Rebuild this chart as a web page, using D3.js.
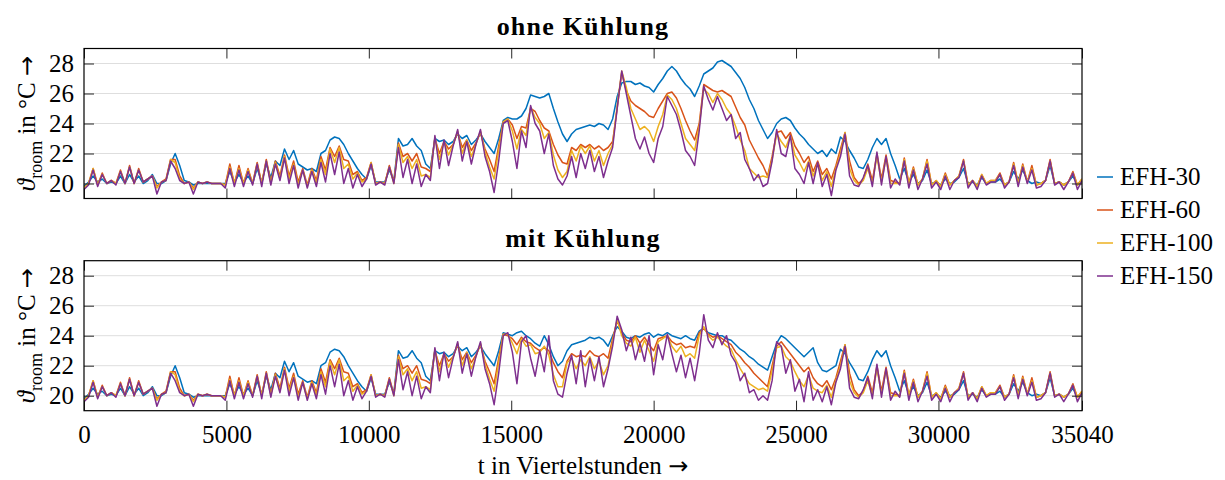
<!DOCTYPE html>
<html lang="de">
<meta charset="utf-8" />
<style>
  body { margin: 0; background: #fff; }
  svg text { font-family: "Liberation Serif", "DejaVu Serif", serif; fill: #000; }
</style>
<svg width="1225" height="480"></svg>
<script src="https://d3js.org/d3.v7.min.js"></script>

<script>
// Raumtemperatur, ein Wert je 160 Viertelstunden (0 ... 35040)
var step = 160, tMax = 35040;

// ohne Kühlung
var ohne30 = [
  19.8, 20.1, 20.5, 20.1, 20.3, 20.0, 20.1, 20.0, 20.5, 20.0,
  20.6, 20.1, 20.5, 20.0, 20.2, 20.6, 20.0, 20.0, 20.2, 21.3,
  22.0, 21.2, 20.2, 20.1, 19.9, 20.0, 20.0, 20.0, 20.0, 20.0,
  20.0, 20.0, 20.8, 20.1, 20.6, 20.1, 20.5, 20.0, 21.0, 20.1,
  21.3, 20.4, 21.5, 21.2, 22.3, 21.6, 22.2, 21.3, 21.1, 20.9,
  21.0, 20.8, 22.0, 22.2, 22.9, 23.1, 23.0, 22.6, 22.0, 21.5,
  21.0, 20.6, 20.3, 21.2, 20.1, 20.1, 20.1, 20.9, 20.2, 23.0,
  22.5, 22.6, 23.0, 22.5, 22.2, 21.3, 21.0, 23.0, 22.8, 22.9,
  22.6, 22.8, 23.3, 23.0, 23.2, 22.6, 22.9, 23.3, 22.8, 22.4,
  22.0, 23.0, 24.2, 24.4, 24.3, 24.3, 24.5, 25.0, 25.9, 25.8,
  25.7, 25.8, 26.0, 25.0, 24.1, 23.3, 22.8, 23.3, 23.6, 23.7,
  23.8, 23.9, 23.8, 24.0, 23.9, 23.6, 24.3, 25.8, 26.7, 26.8,
  26.8, 26.6, 26.7, 26.5, 26.4, 26.1, 26.6, 27.0, 27.5, 27.8,
  27.5, 27.0, 26.6, 26.3, 25.8, 26.5, 27.3, 27.5, 27.7, 28.1,
  28.2, 28.0, 27.8, 27.4, 27.0, 26.4, 25.6, 25.0, 24.2, 23.6,
  23.0, 23.4, 24.0, 24.3, 24.4, 24.2, 23.7, 23.3, 23.0, 22.6,
  22.3, 22.0, 22.2, 21.8, 22.3, 22.0, 23.1, 22.8, 22.2, 21.7,
  21.1, 21.0, 21.6, 22.4, 23.0, 22.6, 23.0, 22.0, 21.2, 20.3,
  21.0, 20.1, 20.6, 20.0, 20.2, 20.9, 20.0, 20.1, 19.9, 20.3,
  20.0, 20.1, 20.4, 21.0, 20.0, 20.1, 19.9, 20.4, 20.0, 20.1,
  20.1, 20.3, 19.9, 20.1, 20.8, 20.3, 20.9, 20.2, 20.0, 20.1,
  20.0, 20.2, 21.2, 20.0, 20.1, 19.9, 20.1, 20.5, 19.9, 20.2
];
var ohne60 = [
  19.7, 20.0, 21.0, 19.9, 20.7, 20.0, 20.2, 20.0, 20.9, 20.0,
  21.2, 20.0, 21.0, 20.1, 20.3, 20.5, 19.8, 20.1, 20.3, 21.6,
  21.6, 20.5, 20.0, 20.1, 19.7, 20.1, 20.0, 20.1, 20.0, 20.0,
  20.0, 19.9, 21.3, 20.0, 21.2, 20.0, 21.0, 20.0, 21.4, 20.0,
  21.6, 20.1, 21.5, 20.5, 21.9, 20.5, 21.5, 20.1, 21.0, 19.9,
  21.0, 20.2, 21.8, 20.9, 22.4, 21.8, 22.5, 21.6, 21.5, 20.6,
  20.8, 20.2, 20.4, 21.4, 20.0, 20.1, 20.0, 21.2, 20.1, 22.7,
  21.8, 22.0, 21.5, 22.0, 21.1, 21.0, 20.8, 23.0, 22.0, 22.8,
  22.3, 22.6, 23.4, 22.4, 22.9, 22.2, 22.7, 23.4, 22.3, 21.6,
  20.8, 22.5, 24.1, 24.3, 23.9, 23.0, 23.8, 23.7, 25.0, 24.8,
  24.2, 23.7, 23.5, 22.6, 21.9, 21.4, 21.3, 22.4, 22.2, 22.6,
  22.4, 22.6, 22.3, 22.5, 22.2, 22.4, 22.8, 25.0, 27.4, 26.2,
  25.5, 25.2, 25.0, 24.8, 24.5, 24.4, 25.0, 25.5, 26.0, 26.1,
  25.7, 25.0, 24.2, 23.5, 22.9, 24.0, 26.6, 26.4, 26.2, 26.1,
  26.2, 26.0, 25.8, 25.1, 24.4, 23.9, 22.9, 22.3, 21.7, 21.2,
  20.5, 21.8, 23.4, 23.5, 23.0, 23.4, 22.5, 22.0, 21.4, 21.8,
  20.8, 21.5, 20.6, 21.0, 20.3, 21.2, 22.3, 23.4, 21.5, 20.4,
  20.0, 20.3, 21.3, 20.2, 22.0, 20.3, 21.9, 20.2, 20.1, 20.0,
  21.7, 20.0, 21.1, 19.9, 20.3, 21.6, 19.9, 20.2, 19.8, 20.7,
  19.9, 20.2, 20.5, 21.6, 19.9, 20.2, 19.8, 20.6, 20.0, 20.2,
  20.2, 20.7, 19.9, 20.1, 21.4, 20.0, 21.3, 20.1, 21.2, 19.9,
  20.0, 20.2, 21.6, 20.0, 20.1, 19.9, 20.1, 20.8, 19.9, 20.3
];
var ohne100 = [
  19.7, 20.0, 21.0, 19.9, 20.6, 20.0, 20.2, 20.0, 20.8, 20.0,
  21.1, 20.0, 20.9, 20.1, 20.3, 20.5, 19.7, 20.1, 20.2, 21.6,
  21.4, 20.3, 20.0, 20.1, 19.6, 20.1, 20.0, 20.1, 20.0, 20.0,
  20.0, 19.9, 21.1, 20.0, 21.0, 20.0, 20.9, 20.0, 21.3, 20.0,
  21.5, 20.0, 21.4, 20.3, 21.8, 20.3, 21.3, 19.9, 20.9, 19.8,
  20.9, 20.0, 21.6, 20.6, 22.3, 21.4, 22.4, 21.0, 21.3, 20.3,
  20.7, 20.1, 20.3, 21.4, 20.0, 20.1, 20.0, 21.1, 20.0, 22.6,
  21.4, 21.8, 21.0, 21.6, 20.5, 20.6, 20.4, 23.1, 21.6, 22.8,
  21.9, 22.6, 23.5, 22.0, 22.9, 21.8, 22.6, 23.5, 22.1, 21.1,
  20.3, 22.2, 24.1, 24.3, 23.5, 22.3, 23.6, 23.2, 25.1, 24.4,
  24.0, 23.0, 23.4, 21.9, 20.9, 20.4, 20.8, 22.2, 21.5, 22.5,
  22.0, 22.5, 21.5, 22.2, 21.2, 22.0, 22.6, 25.2, 27.5, 26.4,
  25.0, 24.3, 23.6, 23.8, 23.5, 22.8, 23.8, 24.6, 25.9, 25.6,
  25.0, 24.0, 23.0, 22.6, 22.2, 23.8, 26.3, 26.0, 25.4, 26.0,
  25.6, 25.0, 24.6, 23.8, 22.9, 22.2, 21.0, 20.7, 20.4, 20.5,
  20.4, 21.6, 23.3, 22.8, 22.4, 23.2, 21.9, 21.4, 20.8, 21.5,
  20.5, 21.3, 20.2, 20.8, 19.8, 21.0, 22.0, 23.4, 21.0, 20.2,
  19.9, 20.2, 21.0, 20.0, 21.8, 20.1, 21.7, 20.0, 20.0, 20.0,
  21.6, 20.0, 21.0, 19.9, 20.3, 21.5, 19.9, 20.2, 19.8, 20.6,
  19.9, 20.2, 20.5, 21.5, 19.9, 20.2, 19.8, 20.6, 20.0, 20.2,
  20.2, 20.6, 19.9, 20.1, 21.3, 20.0, 21.2, 20.1, 21.0, 19.9,
  20.0, 20.2, 21.5, 20.0, 20.1, 19.9, 20.1, 20.7, 19.9, 20.3
];
var ohne150 = [
  19.6, 19.9, 20.9, 19.8, 20.6, 20.0, 20.2, 19.9, 20.8, 20.0,
  21.1, 20.0, 20.9, 20.1, 20.3, 20.5, 19.3, 20.1, 20.2, 21.5,
  21.0, 20.2, 20.0, 20.1, 19.3, 20.1, 20.0, 20.1, 20.0, 20.0,
  20.0, 19.7, 21.0, 19.8, 20.9, 19.8, 20.8, 19.9, 21.3, 19.8,
  21.5, 19.9, 21.3, 20.2, 21.7, 20.0, 21.2, 19.7, 20.9, 19.7,
  20.8, 19.8, 21.4, 20.1, 22.0, 20.6, 22.1, 20.0, 21.0, 19.7,
  20.6, 19.8, 20.3, 21.3, 19.9, 20.1, 19.9, 21.1, 20.0, 22.4,
  20.4, 21.6, 20.0, 21.3, 19.8, 20.6, 20.2, 23.2, 21.0, 22.9,
  21.2, 22.5, 23.6, 21.5, 22.8, 21.3, 22.6, 23.6, 21.8, 20.8,
  19.4, 21.5, 24.0, 24.2, 22.8, 21.0, 23.5, 22.4, 25.2, 24.0,
  23.5, 22.0, 23.3, 21.2, 20.3, 19.9, 20.5, 21.8, 20.4, 22.0,
  21.0, 22.2, 20.8, 21.8, 20.4, 21.5, 22.4, 25.0, 27.5, 26.0,
  24.5, 23.0, 22.3, 23.1, 22.0, 21.4, 23.0, 23.8, 25.8, 25.2,
  24.6, 23.5, 22.2, 21.8, 21.2, 23.5, 26.5, 25.6, 24.9, 25.8,
  25.0, 24.2, 24.6, 23.0, 23.4, 21.6, 21.0, 20.2, 20.6, 19.8,
  20.0, 21.5, 23.6, 22.0, 21.8, 23.2, 21.0, 20.6, 20.0, 21.4,
  20.0, 21.4, 19.8, 20.6, 19.2, 20.9, 21.8, 23.3, 20.5, 19.9,
  19.8, 20.4, 21.2, 19.8, 22.1, 19.9, 21.8, 19.7, 20.3, 19.9,
  21.5, 19.7, 20.9, 19.6, 20.3, 21.3, 19.7, 20.1, 19.6, 20.5,
  19.6, 20.2, 20.4, 21.5, 19.7, 20.2, 19.6, 20.5, 19.9, 20.1,
  20.1, 20.6, 19.7, 20.1, 21.2, 19.8, 21.1, 20.0, 20.9, 19.7,
  19.8, 20.2, 21.5, 19.9, 20.1, 19.6, 20.1, 20.7, 19.6, 20.2
];

// mit Kühlung: nur der Sommer (Index 93 ... 165) weicht ab, sonst gleich wie ohne
var mitStart = 93;
var mit30 = [
  24.1, 24.0, 24.2, 24.3, 24.0, 23.8, 23.5, 23.3, 24.0, 23.4,
  22.6, 22.0, 22.3, 23.0, 23.4, 23.5, 23.6, 23.7, 23.9, 23.8,
  23.9, 23.7, 23.3, 24.0, 24.6, 24.3, 23.9, 23.8, 24.0, 23.9,
  24.1, 24.2, 23.9, 24.1, 24.0, 24.2, 24.0, 23.9, 23.8, 24.0,
  23.8, 23.7, 24.3, 24.5, 24.2, 24.1, 24.0, 24.0, 23.8, 23.7,
  23.4, 23.1, 22.9, 22.6, 22.4, 22.1, 21.9, 21.7, 22.6, 23.5,
  24.0, 23.8, 23.5, 23.2, 22.9, 22.6, 22.9, 23.2, 22.2, 21.7,
  21.6, 21.8, 22.0
];
var mit60 = [
  24.0, 23.8, 23.4, 23.9, 23.6, 23.5, 23.2, 23.0, 23.2, 23.0,
  22.2, 21.6, 21.2, 22.3, 22.8, 22.6, 22.7, 22.6, 23.0, 22.7,
  22.6, 22.8, 22.5, 23.8, 25.0, 24.2, 23.7, 23.6, 24.0, 23.5,
  23.9, 23.4, 23.0, 23.8, 23.9, 24.0, 23.6, 23.4, 23.5, 23.2,
  23.3, 23.2, 24.2, 24.5, 24.1, 23.9, 24.0, 23.8, 23.6, 23.4,
  22.9, 22.6, 22.2, 21.9, 21.5, 21.2, 20.9, 20.6, 22.0, 23.3,
  23.6, 23.2, 22.8, 22.4, 22.0, 21.6, 21.9, 21.2, 20.8, 20.6,
  21.0, 20.4, 21.2
];
var mit100 = [
  24.1, 23.5, 22.8, 23.8, 23.3, 23.4, 22.8, 22.9, 23.3, 22.7,
  21.4, 20.6, 20.6, 22.2, 22.5, 21.8, 22.4, 22.0, 22.6, 21.8,
  22.3, 21.4, 22.0, 23.6, 25.1, 24.0, 23.5, 23.3, 23.9, 22.9,
  23.7, 23.0, 22.3, 23.6, 23.8, 24.0, 23.3, 22.9, 23.3, 22.6,
  22.8, 22.5, 24.0, 24.6, 24.0, 23.7, 23.9, 23.6, 23.3, 23.1,
  22.4, 21.8, 21.3, 20.8, 20.6, 20.4, 20.5, 20.3, 21.7, 23.2,
  23.3, 22.6, 22.3, 21.6, 21.0, 20.6, 21.4, 20.5, 20.3, 20.2,
  20.7, 19.9, 21.0
];
var mit150 = [
  24.2, 22.9, 20.8, 23.6, 24.0, 22.5, 21.3, 23.0, 21.6, 24.0,
  21.0, 20.1, 19.9, 21.5, 22.7, 20.8, 23.0, 20.6, 22.5, 21.0,
  22.6, 20.6, 21.8, 23.3, 25.3, 24.4, 23.0, 23.9, 22.4, 23.5,
  22.3, 24.0, 21.4, 23.4, 22.4, 24.1, 22.8, 21.6, 22.7, 21.2,
  22.5, 21.0, 22.8, 25.4, 23.7, 23.2, 24.2, 23.4, 24.0, 22.7,
  22.2, 21.0, 21.5, 20.2, 20.4, 19.7, 20.0, 19.7, 21.0, 23.6,
  23.3, 21.5, 22.4, 20.3, 21.1, 19.6, 21.6, 19.7, 20.4, 19.6,
  20.6, 19.4, 20.9
];

var names = ["EFH-30", "EFH-60", "EFH-100", "EFH-150"];
var colors = ["#0072bd", "#d95319", "#edb120", "#7e2f8e"];
var xTicks = [0, 5000, 10000, 15000, 20000, 25000, 30000, 35040];
var yTicks = [20, 22, 24, 26, 28];

// Sommerabschnitt in die Kopie der Werte ohne Kühlung einsetzen
function withCooling(base, part) {
  var s = base.slice();
  part.forEach(function(v, i) { s[mitStart + i] = v; });
  return s;
}
var ohne = [ohne30, ohne60, ohne100, ohne150];
var mit = [
  withCooling(ohne30, mit30), withCooling(ohne60, mit60),
  withCooling(ohne100, mit100), withCooling(ohne150, mit150)
];

var svg = d3.select("svg");
var left = 84, right = 1082, ph = 150;

var x = d3.scaleLinear().domain([0, tMax]).range([left, right]);

// Pfeil wie \rightarrow
function arrow(sel) {
  sel.append("tspan").text(" ");
  sel.append("tspan").attr("font-family", "DejaVu Sans").attr("font-size", 24).text("\u2192");
}

function panel(top, title, series, id, labels) {
  var y = d3.scaleLinear().domain([19, 29]).range([top + ph, top]);
  var g = svg.append("g");

  // Gitterlinien
  g.selectAll(".grid")
    .data(yTicks)
    .enter().append("line")
      .attr("x1", left).attr("x2", right)
      .attr("y1", function(d) { return y(d); })
      .attr("y2", function(d) { return y(d); })
      .attr("stroke", "#dedede")
      .attr("stroke-width", 1);

  svg.append("clipPath").attr("id", id)
    .append("rect")
      .attr("x", left).attr("y", top)
      .attr("width", right - left).attr("height", ph);

  var line = d3.line()
    .x(function(d, i) { return x(i * step); })
    .y(function(d) { return y(d); });

  g.append("g").attr("clip-path", "url(#" + id + ")")
    .selectAll("path")
    .data(series)
    .enter().append("path")
      .attr("d", line)
      .attr("fill", "none")
      .attr("stroke", function(d, i) { return colors[i]; })
      .attr("stroke-width", 1.5)
      .attr("stroke-linejoin", "round");

  // Achsen, Ticks nach innen
  var ax = [
    g.append("g").attr("transform", "translate(" + left + ",0)")
      .call(d3.axisLeft(y).tickValues(yTicks).tickSizeInner(-10).tickSizeOuter(0).tickPadding(10)),
    g.append("g").attr("transform", "translate(" + right + ",0)")
      .call(d3.axisRight(y).tickValues(yTicks).tickSizeInner(-10).tickSizeOuter(0).tickFormat("")),
    g.append("g").attr("transform", "translate(0," + top + ")")
      .call(d3.axisTop(x).tickValues(xTicks).tickSizeInner(-10).tickSizeOuter(0).tickFormat("")),
    g.append("g").attr("transform", "translate(0," + (top + ph) + ")")
      .call(d3.axisBottom(x).tickValues(xTicks).tickSizeInner(-10).tickSizeOuter(0).tickPadding(15)
        .tickFormat(labels ? d3.format("d") : ""))
  ];
  ax.forEach(function(a) {
    a.select(".domain").remove();
    a.selectAll("line").attr("stroke", "#262626");
    a.selectAll("text").attr("font-size", 25).attr("font-family", null).attr("fill", "#000");
  });

  g.append("rect")
    .attr("x", left).attr("y", top)
    .attr("width", right - left).attr("height", ph)
    .attr("fill", "none")
    .attr("stroke", "#000")
    .attr("stroke-width", 1.2);

  g.append("text")
    .attr("x", (left + right) / 2)
    .attr("y", top - 14)
    .attr("text-anchor", "middle")
    .attr("font-weight", "bold")
    .attr("font-size", 26)
    .attr("letter-spacing", 1.2)
    .text(title);

  // y-Beschriftung
  var yl = g.append("text")
    .attr("transform", "translate(35," + (top + ph / 2) + ") rotate(-90)")
    .attr("text-anchor", "middle")
    .attr("font-size", 25);
  yl.append("tspan").attr("font-style", "italic").text("\u03d1");
  yl.append("tspan").attr("font-size", 18).attr("dy", 7).text("room");
  yl.append("tspan").attr("dy", -7).text(" in \u00b0C");
  arrow(yl);
}

panel(48.5, "ohne Kühlung", ohne, "clipTop", false);
panel(260.7, "mit Kühlung", mit, "clipBottom", true);

var xl = svg.append("text")
  .attr("x", (left + right) / 2)
  .attr("y", 474)
  .attr("text-anchor", "middle")
  .attr("font-size", 25)
  .text("t in Viertelstunden");
arrow(xl);

// Legende
var leg = svg.append("g").attr("transform", "translate(1097,0)");
var rows = leg.selectAll("g")
  .data(names)
  .enter().append("g")
    .attr("transform", function(d, i) { return "translate(0," + (177 + i * 33) + ")"; });
rows.append("line")
  .attr("x1", 0).attr("x2", 16)
  .attr("stroke", function(d, i) { return colors[i]; })
  .attr("stroke-width", 1.5);
rows.append("text")
  .attr("x", 23)
  .attr("dy", "0.33em")
  .attr("font-size", 25)
  .text(function(d) { return d; });
</script>
</html>
